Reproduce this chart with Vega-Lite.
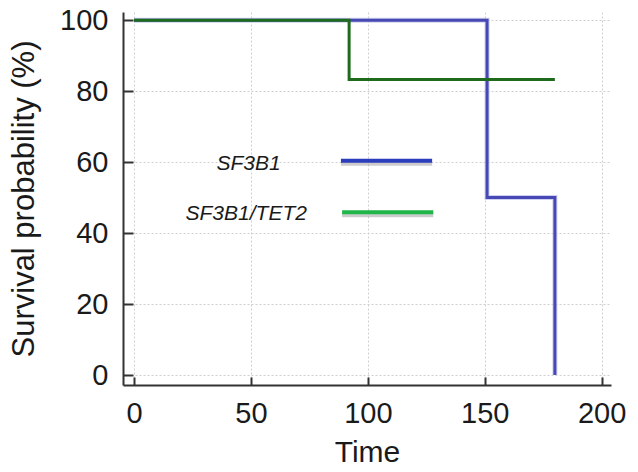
{
  "$schema": "https://vega.github.io/schema/vega-lite/v6.json",
  "width": 488,
  "height": 373,
  "autosize": {"type": "none"},
  "padding": {"left": 123, "top": 12, "right": 27, "bottom": 87},
  "background": "white",
  "config": {
    "view": {"stroke": null},
    "font": "Liberation Sans",
    "axis": {
      "domainColor": "#333333",
      "domainWidth": 2,
      "tickColor": "#333333",
      "tickWidth": 2,
      "labelColor": "#1a1a1a",
      "labelFont": "Liberation Sans",
      "labelFontSize": 29,
      "titleFont": "Liberation Sans",
      "titleFontSize": 30,
      "titleFontWeight": "normal",
      "titleColor": "#1a1a1a",
      "gridColor": "#cfcfcf",
      "gridDash": [2, 2],
      "gridWidth": 1
    }
  },
  "datasets": {
    "curves": [
      {"group": "SF3B1", "time": 0, "surv": 100},
      {"group": "SF3B1", "time": 151, "surv": 50},
      {"group": "SF3B1", "time": 180, "surv": 0},
      {"group": "SF3B1/TET2", "time": 0, "surv": 100},
      {"group": "SF3B1/TET2", "time": 92, "surv": 83.3},
      {"group": "SF3B1/TET2", "time": 180, "surv": 83.3}
    ],
    "legend": [
      {"group": "SF3B1", "tx": 49, "ty": 59.5, "x1": 88.5, "x2": 127.5, "ly": 60.4},
      {"group": "SF3B1/TET2", "tx": 48, "ty": 45.5, "x1": 89, "x2": 128, "ly": 45.9}
    ]
  },
  "layer": [
    {
      "data": {"name": "curves"},
      "transform": [{"filter": "datum.group === 'SF3B1'"}],
      "mark": {"type": "line", "interpolate": "step-after", "color": "#b9bde8", "strokeWidth": 5, "opacity": 0.7},
      "encoding": {
        "x": {
          "field": "time", "type": "quantitative",
          "scale": {"domain": [-4.7, 204], "nice": false, "zero": false},
          "axis": {
            "values": [0, 50, 100, 150, 200],
            "title": "Time",
            "tickSize": -8,
            "labelPadding": 22,
            "titlePadding": 9,
            "grid": true
          }
        },
        "y": {
          "field": "surv", "type": "quantitative",
          "scale": {"domain": [-2.8, 102.3], "nice": false, "zero": false},
          "axis": {
            "values": [0, 10, 20, 30, 40, 50, 60, 70, 80, 90, 100],
            "title": "Survival probability (%)",
            "titleFontSize": 31,
            "tickSize": {"condition": {"test": "datum.value % 20 !== 0", "value": -5}, "value": -10},
            "gridOpacity": {"condition": {"test": "datum.value % 20 !== 0", "value": 0}, "value": 1},
            "labelExpr": "datum.value % 20 === 0 ? datum.label : ''",
            "labelPadding": 25,
            "titlePadding": 19,
            "grid": true
          }
        }
      }
    },
    {
      "data": {"name": "curves"},
      "transform": [{"filter": "datum.group === 'SF3B1'"}],
      "mark": {"type": "line", "interpolate": "step-after", "color": "#4848b5", "strokeWidth": 3},
      "encoding": {
        "x": {"field": "time", "type": "quantitative"},
        "y": {"field": "surv", "type": "quantitative"}
      }
    },
    {
      "data": {"name": "curves"},
      "transform": [{"filter": "datum.group === 'SF3B1/TET2'"}],
      "mark": {"type": "line", "interpolate": "step-after", "color": "#1e6b1e", "strokeWidth": 3},
      "encoding": {
        "x": {"field": "time", "type": "quantitative"},
        "y": {"field": "surv", "type": "quantitative"}
      }
    },
    {
      "data": {"name": "legend"},
      "mark": {"type": "rule", "color": "#9a9a9a", "strokeWidth": 4, "opacity": 0.5, "yOffset": 3},
      "encoding": {
        "x": {"field": "x1", "type": "quantitative"},
        "x2": {"field": "x2"},
        "y": {"field": "ly", "type": "quantitative"}
      }
    },
    {
      "data": {"name": "legend"},
      "transform": [{"filter": "datum.group === 'SF3B1'"}],
      "mark": {"type": "rule", "color": "#2b3dbd", "strokeWidth": 4},
      "encoding": {
        "x": {"field": "x1", "type": "quantitative"},
        "x2": {"field": "x2"},
        "y": {"field": "ly", "type": "quantitative"}
      }
    },
    {
      "data": {"name": "legend"},
      "transform": [{"filter": "datum.group === 'SF3B1/TET2'"}],
      "mark": {"type": "rule", "color": "#1fb548", "strokeWidth": 4},
      "encoding": {
        "x": {"field": "x1", "type": "quantitative"},
        "x2": {"field": "x2"},
        "y": {"field": "ly", "type": "quantitative"}
      }
    },
    {
      "data": {"name": "legend"},
      "mark": {"type": "text", "font": "Liberation Sans", "fontStyle": "italic", "fontSize": 21, "color": "#1a1a1a", "align": "center", "baseline": "middle"},
      "encoding": {
        "x": {"field": "tx", "type": "quantitative"},
        "y": {"field": "ty", "type": "quantitative"},
        "text": {"field": "group"}
      }
    }
  ]
}
